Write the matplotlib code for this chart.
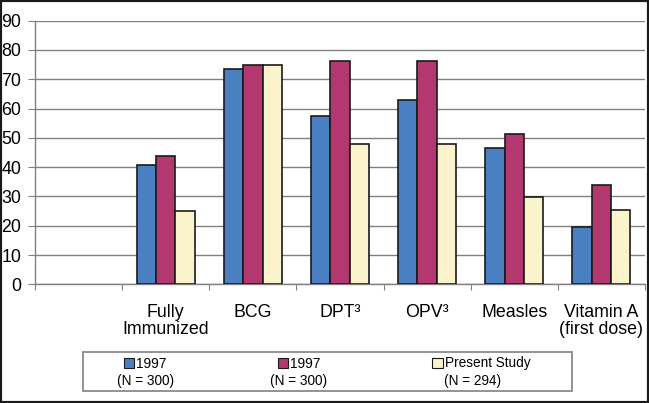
import matplotlib
matplotlib.use("Agg")
import matplotlib.pyplot as plt
from matplotlib.patches import Patch, Rectangle
import numpy as np

plt.rcParams["font.family"] = ["Liberation Sans", "DejaVu Sans"]

# chart data
categories = ["", "Fully\nImmunized", "BCG", "DPT³", "OPV³", "Measles", "Vitamin A\n(first dose)"]
series_names = ["1997", "1997", "Present Study"]
series_notes = ["(N = 300)", "(N = 300)", "(N = 294)"]
survey_1997_a = [None, 40.7, 73.4, 57.4, 62.8, 46.4, 19.7]
survey_1997_b = [None, 43.8, 75.0, 76.1, 76.1, 51.4, 33.8]
present_study = [None, 25.1, 75.0, 47.8, 47.9, 29.8, 25.5]
y_ticks = [0, 10, 20, 30, 40, 50, 60, 70, 80, 90]

colors = ["#4A80C2", "#B3386F", "#FAF3CB"]
series = [survey_1997_a, survey_1997_b, present_study]

W, H = 649, 403
fig = plt.figure(figsize=(W / 100, H / 100), dpi=100)
ax = fig.add_axes([35 / W, 1 - 284.3 / H, 610 / W, (284.3 - 20.7) / H])

x = np.arange(len(categories))
width = 0.222
for i, (vals, col) in enumerate(zip(series, colors)):
    xs = [xx for xx, v in zip(x, vals) if v is not None]
    ys = [v for v in vals if v is not None]
    ax.bar(np.array(xs) + (i - 1) * width, ys, width, color=col,
           edgecolor="#1a1a1a", linewidth=1.2, zorder=3)

ax.set_ylim(0, 90)
ax.set_xlim(-0.5, len(categories) - 0.5)
ax.set_yticks(y_ticks)
ax.yaxis.grid(True, color="#808080", linewidth=1.0, zorder=0)
ax.set_axisbelow(True)

# category boundaries as major ticks, names on minor ticks
ax.set_xticks(np.arange(len(categories) + 1) - 0.5)
ax.set_xticklabels([])
ax.set_xticks(x, minor=True)
ax.set_xticklabels(categories, minor=True, fontsize=12.8, linespacing=1.05)
ax.tick_params(axis="x", which="major", length=4, color="#808080")
ax.tick_params(axis="x", which="minor", length=0, pad=14)
ax.tick_params(axis="y", length=5, color="#808080", labelsize=12.8, pad=5)

for s in ["top", "right"]:
    ax.spines[s].set_visible(False)
for s in ["left", "bottom"]:
    ax.spines[s].set_color("#808080")
    ax.spines[s].set_linewidth(1.0)

# legend box
fig.patches.append(Rectangle((83 / W, 1 - 391 / H), 489 / W, 39 / H,
                             transform=fig.transFigure, fill=False,
                             edgecolor="#8a8a8a", linewidth=1.3))
handles = [Patch(facecolor=c, edgecolor="#1a1a1a", linewidth=0.8) for c in colors]
fig.legend(handles, series_names, loc="center left",
           bbox_to_anchor=(124 / W, 1 - 363.5 / H), ncol=3, frameon=False,
           fontsize=9.8, handlelength=0.75, handleheight=0.75,
           handletextpad=0.15, columnspacing=8.2, borderpad=0, borderaxespad=0)
for xc, note in zip([146, 299, 473], series_notes):
    fig.text(xc / W, 1 - 381.5 / H, note, ha="center", va="center", fontsize=9.8)

# outer frame
fig.patches.append(Rectangle((0, 0), 1, 1, transform=fig.transFigure, fill=False,
                             edgecolor="#1a1a1a", linewidth=3))

fig.savefig("out.png", dpi=100)
